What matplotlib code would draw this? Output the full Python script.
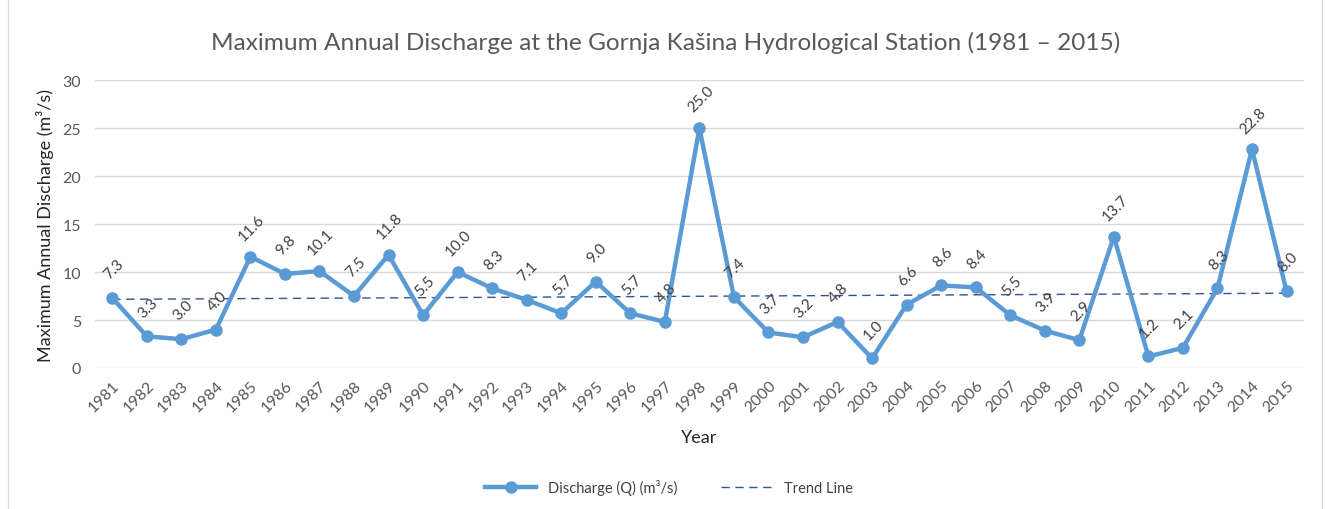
import matplotlib
matplotlib.use("Agg")
import matplotlib.pyplot as plt
import numpy as np
from matplotlib.patches import Rectangle

years = list(range(1981, 2016))
discharge = [7.3, 3.3, 3.0, 4.0, 11.6, 9.8, 10.1, 7.5, 11.8, 5.5,
             10.0, 8.3, 7.1, 5.7, 9.0, 5.7, 4.8, 25.0, 7.4, 3.7,
             3.2, 4.8, 1.0, 6.6, 8.6, 8.4, 5.5, 3.9, 2.9, 13.7,
             1.2, 2.1, 8.3, 22.8, 8.0]
yticks = [0, 5, 10, 15, 20, 25, 30]

plt.rcParams['font.family'] = ['Lato', 'DejaVu Sans']
grey = '#595959'

fig = plt.figure(figsize=(13.25, 5.1), dpi=100)
ax = fig.add_axes([0.0717, 0.2765, 0.9123, 0.5645])

x = np.arange(len(years))
ax.plot(x, discharge, color='#5B9BD5', lw=3.2, marker='o', ms=8,
        label='Discharge (Q) (m³/s)', zorder=3)

coef = np.polyfit(x, discharge, 1)
trend = np.polyval(coef, x)
ax.plot(x, trend, color='#2F5597', lw=1.0, ls=(0, (6, 4)),
        label='Trend Line', zorder=2)

for xi, v in zip(x, discharge):
    ax.annotate(f'{v:.1f}', (xi, v), xytext=(1, 21), textcoords='offset points',
                ha='center', va='center', rotation=45, fontsize=11,
                color='#404040', zorder=4)

ax.set_xlim(-0.5, len(years) - 0.5)
ax.set_ylim(0, 30)
ax.set_yticks(yticks)
ax.set_xticks(x)
ax.set_xticklabels([str(y) for y in years], rotation=45, ha='right',
                   rotation_mode='anchor', fontsize=11.5, color=grey)
ax.tick_params(axis='y', labelsize=11.5, colors=grey, length=0, pad=10)
ax.tick_params(axis='x', length=0, pad=7)
ax.grid(axis='y', color='#D9D9D9', lw=1)
ax.set_axisbelow(True)
for s in ax.spines.values():
    s.set_visible(False)

ax.set_xlabel('Year', fontsize=13, color='#262626', labelpad=11)
ax.set_ylabel('Maximum Annual Discharge (m³/s)', fontsize=13,
              color='#262626', labelpad=6)
fig.text(0.502, 0.915, 'Maximum Annual Discharge at the Gornja Kašina Hydrological Station (1981 – 2015)',
         ha='center', va='center', fontsize=17.6, color='#595959')

leg = fig.legend(loc='center', bbox_to_anchor=(0.505, 0.043), ncol=2,
                 frameon=False, fontsize=10.5, handlelength=3.5, columnspacing=3,
                 labelcolor='#404040')

fig.patches.append(Rectangle((0.006, -0.01), 0.992, 1.1, transform=fig.transFigure,
                             fill=False, edgecolor='#D9D9D9', lw=1))

fig.savefig('out.png', dpi=100, facecolor='white')
